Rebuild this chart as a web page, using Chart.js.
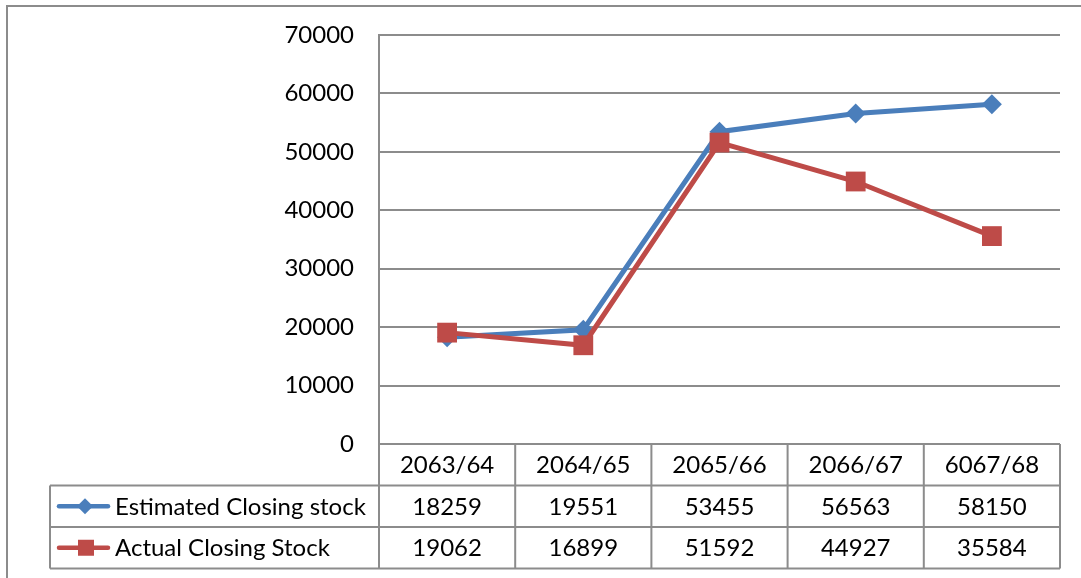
<!DOCTYPE html>
<html>
<head>
<meta charset="utf-8">
<script src="https://cdn.jsdelivr.net/npm/chart.js@4.4.1/dist/chart.umd.min.js"></script>
<style>
  html, body { margin: 0; padding: 0; background: #ffffff; }
  #wrap { width: 1081px; height: 578px; }
</style>
</head>
<body>
<div id="wrap"><canvas id="stockChart" width="1081" height="578"></canvas></div>
<script>
// Fiscal years and closing stock figures
const years = ['2063/64', '2064/65', '2065/66', '2066/67', '6067/68'];
const estimatedClosing = [18259, 19551, 53455, 56563, 58150];
const actualClosing = [19062, 16899, 51592, 44927, 35584];
const seriesNames = ['Estimated Closing stock', 'Actual Closing Stock'];
const yTicks = [0, 10000, 20000, 30000, 40000, 50000, 60000, 70000];

const BLUE = '#4a7ebb';
const RED = '#be4b48';
const GRID = '#8c8c8c';
const FONT_FAMILY = 'Lato, "Liberation Sans", sans-serif';
const FONT = '24px ' + FONT_FAMILY;

// Data table drawn under the plot, column positions taken from the x scale
const dataTablePlugin = {
  id: 'dataTable',
  afterDraw(chart) {
    const ctx = chart.ctx;
    const area = chart.chartArea;
    const xs = chart.scales.x;
    const colW = (area.right - area.left) / years.length;
    const top = area.bottom;
    const rowH = 41.5;
    const legendLeft = 50;

    ctx.save();
    // outer frame (top and left edges)
    ctx.strokeStyle = GRID;
    ctx.lineWidth = 2;
    ctx.beginPath();
    ctx.moveTo(7, 578); ctx.lineTo(7, 6); ctx.lineTo(1081, 6);
    ctx.stroke();

    // table grid
    ctx.beginPath();
    ctx.moveTo(legendLeft, top + rowH); ctx.lineTo(area.right, top + rowH);
    ctx.moveTo(legendLeft, top + 2 * rowH); ctx.lineTo(area.right, top + 2 * rowH);
    ctx.moveTo(legendLeft, top + 3 * rowH); ctx.lineTo(area.right, top + 3 * rowH);
    ctx.moveTo(legendLeft, top + rowH); ctx.lineTo(legendLeft, top + 3 * rowH);
    for (let i = 0; i <= years.length; i++) {
      const x = area.left + i * colW;
      ctx.moveTo(x, top); ctx.lineTo(x, top + 3 * rowH);
    }
    ctx.stroke();

    // cell text
    ctx.fillStyle = '#000000';
    ctx.font = FONT;
    ctx.textAlign = 'center';
    ctx.textBaseline = 'middle';
    const rows = [years, estimatedClosing, actualClosing];
    rows.forEach((row, r) => {
      const cy = top + rowH * r + rowH / 2 + 1;
      row.forEach((v, i) => {
        ctx.fillText(String(v), xs.getPixelForValue(i), cy);
      });
    });

    // legend keys in the row headers
    const keys = [
      { color: BLUE, shape: 'diamond' },
      { color: RED, shape: 'square' }
    ];
    keys.forEach((k, r) => {
      const cy = top + rowH * (r + 1) + rowH / 2;
      ctx.strokeStyle = k.color;
      ctx.fillStyle = k.color;
      ctx.lineWidth = 4.5;
      ctx.lineCap = 'round';
      ctx.beginPath();
      ctx.moveTo(59, cy); ctx.lineTo(108, cy);
      ctx.stroke();
      ctx.beginPath();
      if (k.shape === 'diamond') {
        ctx.moveTo(85, cy - 8); ctx.lineTo(93, cy); ctx.lineTo(85, cy + 8); ctx.lineTo(77, cy);
        ctx.closePath();
      } else {
        ctx.rect(78, cy - 8, 16, 16);
      }
      ctx.fill();
      ctx.fillStyle = '#000000';
      ctx.textAlign = 'left';
      ctx.fillText(seriesNames[r], 115, cy + 1);
    });
    ctx.restore();
  }
};

new Chart(document.getElementById('stockChart'), {
  type: 'line',
  data: {
    labels: years,
    datasets: [
      {
        label: seriesNames[0],
        data: estimatedClosing,
        borderColor: BLUE,
        backgroundColor: BLUE,
        borderWidth: 5,
        pointStyle: 'rectRot',
        pointRadius: 10,
        pointBorderWidth: 0,
        tension: 0,
        order: 1
      },
      {
        label: seriesNames[1],
        data: actualClosing,
        borderColor: RED,
        backgroundColor: RED,
        borderWidth: 5,
        pointStyle: 'rect',
        pointRadius: 14,
        pointBorderWidth: 0,
        tension: 0,
        order: 0
      }
    ]
  },
  options: {
    responsive: false,
    devicePixelRatio: 1,
    animation: false,
    layout: { padding: { top: 35, bottom: 134, left: 0, right: 21 } },
    plugins: {
      legend: { display: false },
      tooltip: { enabled: false },
      title: { display: false }
    },
    scales: {
      x: {
        type: 'category',
        offset: true,
        display: false,
        grid: { display: false }
      },
      y: {
        min: 0,
        max: 70000,
        afterFit(scale) {
          scale.width = 379;
          scale.paddingTop = 0;
          scale.paddingBottom = 0;
        },
        afterBuildTicks(scale) { scale.ticks = yTicks.map(v => ({ value: v })); },
        border: { display: true, color: GRID, width: 2 },
        grid: { color: GRID, lineWidth: 2, drawTicks: false },
        ticks: {
          padding: 25,
          color: '#000000',
          font: { family: FONT_FAMILY, size: 24 },
          callback: v => String(v)
        }
      }
    }
  },
  plugins: [dataTablePlugin]
});
</script>
</body>
</html>
